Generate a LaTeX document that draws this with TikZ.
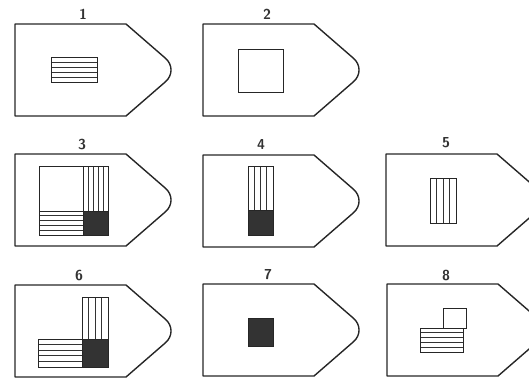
\documentclass[tikz,border=0pt]{standalone}
\usepackage{tikz}
\usetikzlibrary{calc,positioning}
\tikzset{
  outline/.style={line width=1.4pt, black!85, line join=round},
  hatchbox/.style={line width=1pt, black!85},
  hatch/.style={line width=0.7pt, black!80},
  darkbox/.style={fill=black!80, draw=black!85, line width=1pt},
  numlabel/.style={font=\sffamily\Large\bfseries, inner sep=0pt, black!80},
}
% plate outline: left x, top y
\newcommand{\plate}[2]{%
  \draw[outline] (#1,#2) -- ++(111,0) [rounded corners=18pt] -- ++(53,46)
    [sharp corners] -- ++(-53,46) -- ++(-111,0) -- cycle;}
% striped boxes: x1 y1 x2 y2 number of stripes
\newcommand{\hstripes}[5]{%
  \pgfmathtruncatemacro\nlast{#5-1}
  \foreach \k in {1,...,\nlast}
    \draw[hatch] (#1,{#2+(#4-#2)*\k/#5}) -- (#3,{#2+(#4-#2)*\k/#5});
  \draw[hatchbox] (#1,#2) rectangle (#3,#4);}
\newcommand{\vstripes}[5]{%
  \pgfmathtruncatemacro\nlast{#5-1}
  \foreach \k in {1,...,\nlast}
    \draw[hatch] ({#1+(#3-#1)*\k/#5},#2) -- ({#1+(#3-#1)*\k/#5},#4);
  \draw[hatchbox] (#1,#2) rectangle (#3,#4);}

\begin{document}
\begin{tikzpicture}[x=1pt,y=-1pt]
  \useasboundingbox (0,0) rectangle (529,381);
  \clip (0,0) rectangle (529,381);
  % outlines
  \plate{15}{24}   \plate{203}{24}
  \plate{15}{154}  \plate{203}{155} \plate{386}{154}
  \plate{15}{285}  \plate{203}{284} \plate{387}{284}
  % numbers
  \node[numlabel] (l1) at (83,14)  {1};
  \node[numlabel] (l2) at (267,14) {2};
  \node[numlabel] (l3) at (82,144) {3};
  \node[numlabel] (l4) at (261,144) {4};
  \node[numlabel] (l5) at (446,143) {5};
  \node[numlabel] (l6) at (79,275) {6};
  \node[numlabel] (l7) at (268,275) {7};
  \node[numlabel] (l8) at (446,275) {8};
  % 1
  \hstripes{51}{57}{97}{82}{5}
  % 2
  \draw[hatchbox] (238,49) rectangle (283,92);
  % 3
  \draw[hatchbox] (39,166) rectangle (108,235);
  \vstripes{83}{166}{108}{211}{5}
  \hstripes{39}{211}{83}{235}{5}
  \draw[darkbox] (83,211) rectangle (108,235);
  % 4
  \vstripes{248}{166}{273}{210}{4}
  \draw[darkbox] (248,210) rectangle (273,235);
  % 5
  \vstripes{430}{178}{456}{223}{4}
  % 6
  \vstripes{82}{297}{108}{339}{4}
  \hstripes{38}{339}{82}{367}{5}
  \draw[darkbox] (82,339) rectangle (108,367);
  % 7
  \draw[darkbox] (248,318) rectangle (273,346);
  % 8
  \draw[hatchbox] (443,308) rectangle (466,328);
  \hstripes{420}{328}{463}{352}{5}
\end{tikzpicture}
\end{document}
